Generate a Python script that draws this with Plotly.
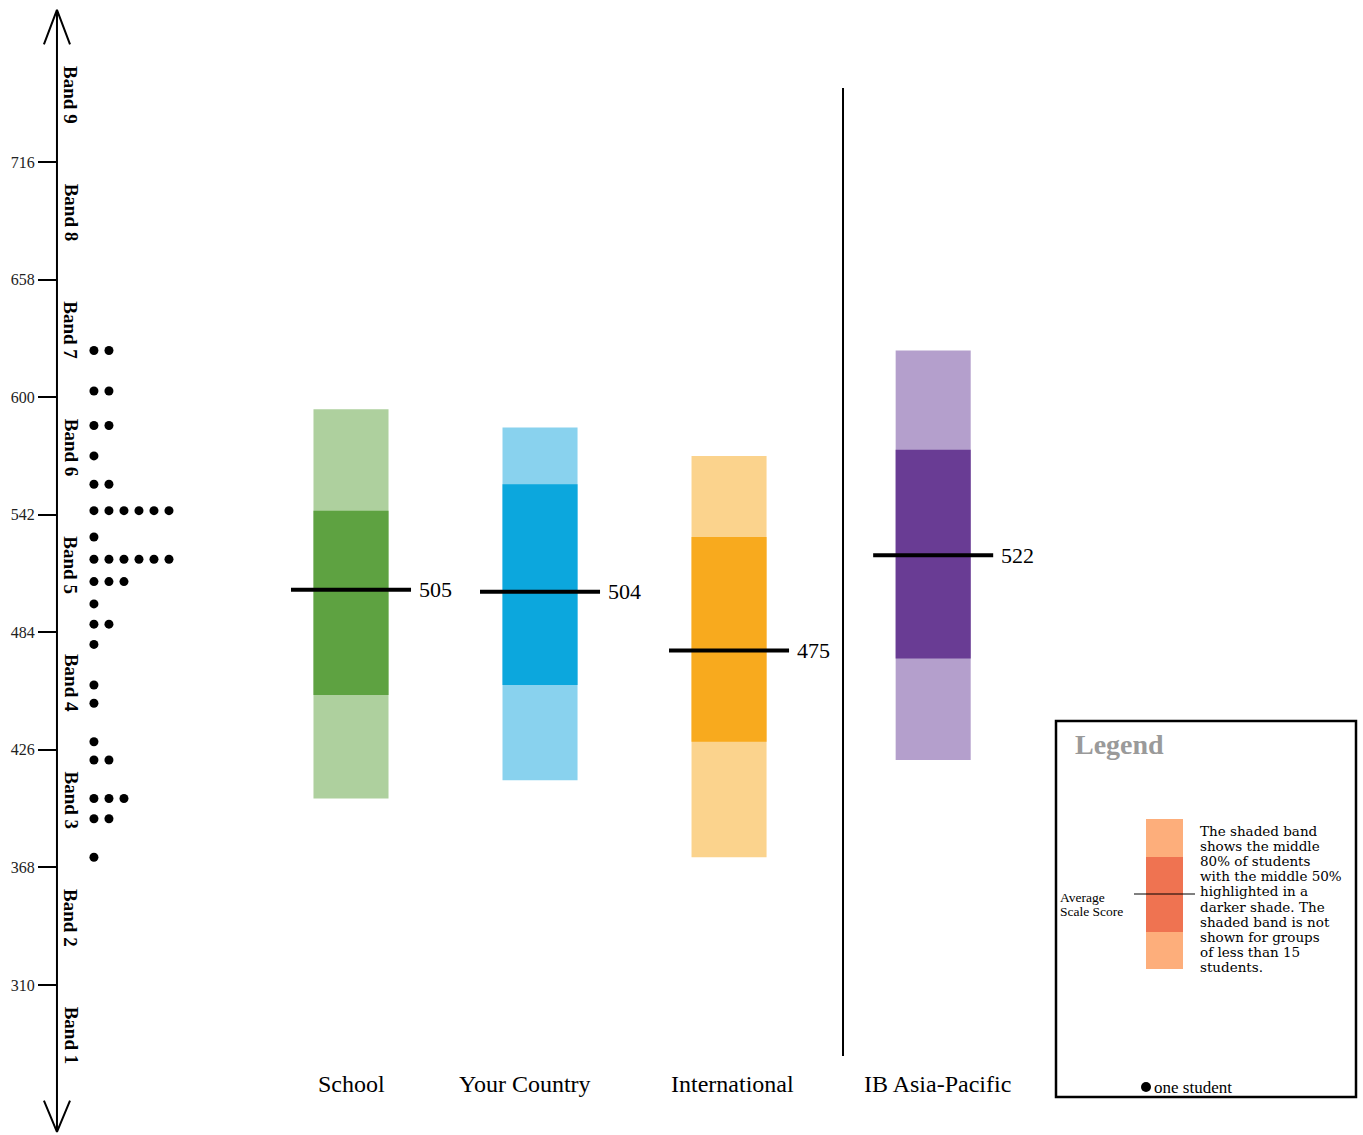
import plotly.graph_objects as go

# ---------------- data ----------------
categories = ["School", "Your Country", "International", "IB Asia-Pacific"]
cat_pos = [0.0, 1.0, 2.0, 3.08]          # x positions (IB group after separator)
means = [505, 504, 475, 522]
p10 = [402, 411, 373, 421]
p25 = [453, 458, 430, 471]
p75 = [544, 557, 531, 574]
p90 = [594, 585, 571, 623]

light_colors = ["#AED09E", "#89D2EE", "#FBD38D", "#B49FCC"]
dark_colors = ["#5EA241", "#0CA7DD", "#F8AA1E", "#693C94"]

band_ticks = [310, 368, 426, 484, 542, 600, 658, 716]
band_names = ["Band 1", "Band 2", "Band 3", "Band 4", "Band 5",
              "Band 6", "Band 7", "Band 8", "Band 9"]
band_mids = [281, 339, 397, 455, 513, 571, 629, 687, 745]

# one dot per student: score rows and how many students in each row
dot_scores = [623, 603, 586, 571, 557, 544, 531, 520, 509, 498,
              488, 478, 458, 449, 430, 421, 402, 392, 373]
dot_counts = [2, 2, 2, 1, 2, 6, 1, 6, 3, 1,
              2, 1, 1, 1, 1, 2, 3, 2, 1]

FONT = "Liberation Serif"
W, H = 1363, 1135
Y_RANGE = [236.0, 795.9]
X_RANGE = [-1.857, 5.354]
AXIS_X = -1.5556
DOT_X0 = -1.36
DOT_DX = 0.0794
BAR_W = 0.397
MEAN_HALF = 0.3175

fig = go.Figure()

# shaded bands (80% and 50%)
fig.add_trace(go.Bar(x=cat_pos, y=[h - l for h, l in zip(p90, p10)], base=p10,
                     width=BAR_W, marker=dict(color=light_colors, line=dict(width=0)),
                     hoverinfo="skip", showlegend=False))
fig.add_trace(go.Bar(x=cat_pos, y=[h - l for h, l in zip(p75, p25)], base=p25,
                     width=BAR_W, marker=dict(color=dark_colors, line=dict(width=0)),
                     hoverinfo="skip", showlegend=False))

# mean lines and labels
for xc, m in zip(cat_pos, means):
    fig.add_trace(go.Scatter(x=[xc - MEAN_HALF, xc + MEAN_HALF], y=[m, m], mode="lines",
                             line=dict(color="black", width=4), hoverinfo="skip",
                             showlegend=False))
    fig.add_annotation(x=xc + MEAN_HALF + 0.033, y=m, text=str(m), showarrow=False,
                       xanchor="left", yanchor="middle",
                       font=dict(family=FONT, size=22, color="black"))

# student dots
dx, dy = [], []
for s, c in zip(dot_scores, dot_counts):
    for k in range(c):
        dx.append(DOT_X0 + k * DOT_DX)
        dy.append(s)
fig.add_trace(go.Scatter(x=dx, y=dy, mode="markers",
                         marker=dict(color="black", size=9), hoverinfo="skip",
                         showlegend=False))

# scale axis with open arrow heads
fig.add_trace(go.Scatter(x=[AXIS_X, AXIS_X], y=[238, 791], mode="lines",
                         line=dict(color="black", width=2), hoverinfo="skip",
                         showlegend=False))
fig.add_trace(go.Scatter(x=[AXIS_X - 0.069, AXIS_X, AXIS_X + 0.069], y=[774, 791, 774],
                         mode="lines", line=dict(color="black", width=2),
                         hoverinfo="skip", showlegend=False))
fig.add_trace(go.Scatter(x=[AXIS_X - 0.069, AXIS_X, AXIS_X + 0.069], y=[253, 237.5, 253],
                         mode="lines", line=dict(color="black", width=2),
                         hoverinfo="skip", showlegend=False))

# separator line
fig.add_trace(go.Scatter(x=[2.603, 2.603], y=[275, 752.5], mode="lines",
                         line=dict(color="black", width=2), hoverinfo="skip",
                         showlegend=False))

# band labels
for name, mid in zip(band_names, band_mids):
    fig.add_annotation(x=71 / W, xref="paper", y=mid + 4, yref="y", text="<b>" + name + "</b>",
                       showarrow=False, textangle=90, xanchor="center", yanchor="middle",
                       font=dict(family=FONT, size=19, color="black"))

# category labels
label_shift = [0, -15, 3, 4]
for xc, name, sh in zip(cat_pos, categories, label_shift):
    fig.add_annotation(x=xc, y=1 - 1084 / H, yref="paper", text=name, showarrow=False,
                       xanchor="center", yanchor="middle", xshift=sh,
                       font=dict(family=FONT, size=24, color="black"))

# ---------------- legend box ----------------
def px(x):
    return x / W

def py(y):
    return 1 - y / H

shapes = [
    dict(type="rect", xref="paper", yref="paper", x0=px(1056), x1=px(1356),
         y0=py(1097), y1=py(721), line=dict(color="black", width=2.5), fillcolor="white",
         layer="below"),
    dict(type="rect", xref="paper", yref="paper", x0=px(1146), x1=px(1183),
         y0=py(969), y1=py(819), line=dict(width=0), fillcolor="#FDAE7B"),
    dict(type="rect", xref="paper", yref="paper", x0=px(1146), x1=px(1183),
         y0=py(932), y1=py(857), line=dict(width=0), fillcolor="#EF7351"),
    dict(type="line", xref="paper", yref="paper", x0=px(1134), x1=px(1195),
         y0=py(894), y1=py(894), line=dict(color="black", width=1)),
    dict(type="circle", xref="paper", yref="paper", x0=px(1141), x1=px(1151),
         y0=py(1092), y1=py(1082), line=dict(width=0), fillcolor="black"),
]
fig.update_layout(shapes=shapes)

fig.add_annotation(x=px(1073), y=py(744), xref="paper", yref="paper",
                   text="<b>Legend</b>", showarrow=False, xanchor="left", yanchor="middle",
                   font=dict(family=FONT, size=28, color="#9A9A9A"))
legend_lines = ["The shaded band", "shows the middle", "80% of students",
                "with the middle 50%", "highlighted in a", "darker shade. The",
                "shaded band is not", "shown for groups", "of less than 15", "students."]
for i, t in enumerate(legend_lines):
    fig.add_annotation(x=px(1198), y=py(830.5 + i * 15.2), xref="paper", yref="paper",
                       text=t, showarrow=False, xanchor="left", yanchor="middle",
                       font=dict(family="DejaVu Serif", size=13.5, color="black"))
for i, t in enumerate(["Average", "Scale Score"]):
    fig.add_annotation(x=px(1058), y=py(897 + i * 14), xref="paper", yref="paper",
                       text=t, showarrow=False, xanchor="left", yanchor="middle",
                       font=dict(family=FONT, size=13.5, color="black"))
fig.add_annotation(x=px(1152), y=py(1087), xref="paper", yref="paper",
                   text="one student", showarrow=False, xanchor="left", yanchor="middle",
                   font=dict(family=FONT, size=17, color="black"))

fig.update_layout(
    width=W, height=H, margin=dict(l=0, r=0, t=0, b=0),
    paper_bgcolor="white", plot_bgcolor="white", barmode="overlay",
    xaxis=dict(range=X_RANGE, visible=False, fixedrange=True),
    yaxis=dict(range=Y_RANGE, anchor="free", position=57 / W, showgrid=False,
               zeroline=False, showline=False, tickmode="array", tickvals=band_ticks,
               ticks="outside", ticklen=19, tickwidth=2, tickcolor="black",
               tickfont=dict(family=FONT, size=16, color="#222222"), fixedrange=True),
    showlegend=False,
)

fig.write_html("out.html", config={"displayModeBar": False},
               post_script="document.body.style.margin='0';document.body.style.overflow='hidden';")
